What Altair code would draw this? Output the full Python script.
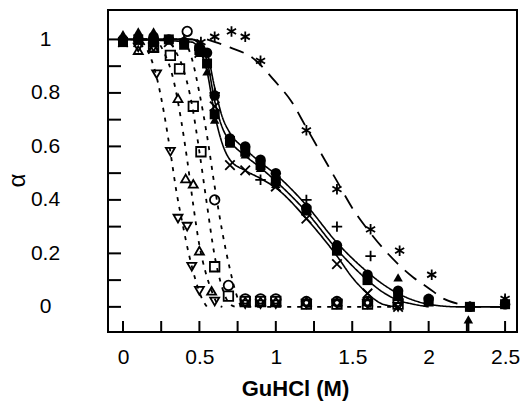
import altair as alt
import pandas as pd

# ---------------- data ----------------
# filled circles
fc_x = [0, 0.1, 0.2, 0.3, 0.4, 0.5, 0.55, 0.6, 0.7, 0.8, 0.9, 1.0, 1.2, 1.4, 1.6, 1.8, 2.0, 2.27, 2.5]
fc_y = [1.0, 1.0, 1.01, 1.0, 0.99, 0.97, 0.95, 0.79, 0.63, 0.60, 0.55, 0.50, 0.37, 0.23, 0.12, 0.06, 0.03, 0.0, 0.01]
# filled squares
fs_x = [0, 0.1, 0.2, 0.3, 0.4, 0.5, 0.55, 0.6, 0.7, 0.8, 0.9, 1.0, 1.2, 1.4, 1.6, 1.8, 2.0, 2.27, 2.5]
fs_y = [0.99, 1.0, 0.99, 1.0, 0.98, 0.96, 0.91, 0.72, 0.62, 0.58, 0.53, 0.47, 0.36, 0.21, 0.10, 0.04, 0.02, 0.0, 0.01]
# filled triangles
ft_x = [0, 0.1, 0.2, 0.3, 0.4, 0.5, 0.55, 0.6, 0.7, 0.8, 0.9, 1.0, 1.2, 1.4, 1.6, 1.8, 2.0, 2.5]
ft_y = [1.02, 1.03, 1.03, 1.0, 1.0, 0.95, 0.88, 0.70, 0.61, 0.57, 0.52, 0.46, 0.38, 0.22, 0.11, 0.11, 0.02, 0.03]
# crosses (x)
xx_x = [0, 0.1, 0.2, 0.3, 0.5, 0.6, 0.7, 0.8, 1.0, 1.2, 1.4, 1.6, 1.8]
xx_y = [0.99, 0.99, 0.98, 0.99, 0.95, 0.75, 0.53, 0.51, 0.45, 0.33, 0.16, 0.05, 0.0]
# plus (+)
pl_x = [0, 0.2, 0.4, 0.5, 0.6, 0.9, 1.2, 1.4, 1.62, 1.8]
pl_y = [1.0, 0.99, 1.0, 0.96, 0.80, 0.475, 0.40, 0.30, 0.19, 0.03]
# asterisks
as_x = [0.51, 0.6, 0.71, 0.8, 0.9, 1.2, 1.4, 1.62, 1.81, 2.02, 2.27, 2.5]
as_y = [0.99, 1.01, 1.03, 1.01, 0.92, 0.66, 0.44, 0.29, 0.21, 0.12, 0.0, 0.03]
# open inverted triangles
dn_x = [0.1, 0.2, 0.22, 0.31, 0.36, 0.42, 0.45, 0.5, 0.6, 0.8, 0.9, 1.0, 1.2, 1.4, 1.6, 1.8]
dn_y = [0.97, 0.97, 0.87, 0.58, 0.33, 0.30, 0.15, 0.06, 0.02, 0.01, 0.01, 0.01, 0.01, 0.01, 0.01, 0.0]
# open triangles
up_x = [0.1, 0.2, 0.36, 0.41, 0.46, 0.5, 0.58, 0.8, 0.9, 1.0, 1.2, 1.4, 1.6]
up_y = [0.96, 0.97, 0.78, 0.48, 0.46, 0.21, 0.06, 0.02, 0.02, 0.02, 0.02, 0.02, 0.02]
# open squares
sq_x = [0.2, 0.31, 0.37, 0.46, 0.51, 0.6, 0.69, 0.8, 0.9, 1.0, 1.2, 1.4, 1.6, 1.8]
sq_y = [0.97, 0.94, 0.89, 0.75, 0.58, 0.15, 0.04, 0.02, 0.02, 0.02, 0.01, 0.01, 0.01, 0.01]
# open circles
oc_x = [0.2, 0.42, 0.6, 0.69, 0.8, 0.9, 1.0, 1.2, 1.4, 1.6]
oc_y = [1.0, 1.03, 0.40, 0.08, 0.03, 0.03, 0.03, 0.02, 0.02, 0.02]

# fitted curves
s1_x = [0, 0.45, 0.5, 0.55, 0.6, 0.65, 0.7, 0.8, 0.9, 1.0, 1.2, 1.4, 1.6, 1.7, 1.8, 1.9, 2.0, 2.2, 2.5]
s1_y = [1, 1, 0.99, 0.95, 0.82, 0.71, 0.65, 0.59, 0.54, 0.495, 0.38, 0.24, 0.13, 0.085, 0.05, 0.025, 0.01, 0, 0]
s2_x = [0, 0.45, 0.5, 0.55, 0.6, 0.65, 0.7, 0.8, 0.9, 1.0, 1.2, 1.4, 1.6, 1.7, 1.8, 1.9, 2.0]
s2_y = [1, 1, 0.98, 0.92, 0.77, 0.67, 0.62, 0.565, 0.52, 0.47, 0.355, 0.215, 0.10, 0.055, 0.025, 0.01, 0]
s3_x = [0, 0.45, 0.5, 0.55, 0.6, 0.65, 0.7, 0.8, 0.9, 1.0, 1.2, 1.4, 1.5, 1.6, 1.7, 1.8]
s3_y = [1, 0.99, 0.96, 0.88, 0.72, 0.61, 0.55, 0.51, 0.48, 0.445, 0.33, 0.19, 0.11, 0.05, 0.01, 0]
ast_fit_x = [0.55, 0.7, 0.85, 1.0, 1.1, 1.2, 1.3, 1.4, 1.5, 1.6, 1.7, 1.8, 1.9, 2.0, 2.1, 2.2, 2.3, 2.5]
ast_fit_y = [1.0, 0.97, 0.93, 0.84, 0.77, 0.67, 0.57, 0.47, 0.37, 0.29, 0.22, 0.16, 0.11, 0.07, 0.03, 0.01, 0.0, 0.0]
c1_x = [0, 0.1, 0.16, 0.22, 0.27, 0.31, 0.35, 0.39, 0.43, 0.47, 0.51, 0.55]
c1_y = [1.0, 1.0, 0.96, 0.86, 0.72, 0.58, 0.43, 0.31, 0.20, 0.11, 0.04, 0.0]
c2_x = [0, 0.2, 0.27, 0.33, 0.38, 0.42, 0.46, 0.50, 0.54, 0.58, 0.62, 0.65]
c2_y = [1.0, 1.0, 0.95, 0.85, 0.70, 0.55, 0.38, 0.23, 0.13, 0.06, 0.01, 0.0]
c3_x = [0, 0.28, 0.35, 0.40, 0.45, 0.50, 0.55, 0.60, 0.65, 0.70, 0.74]
c3_y = [1.0, 1.0, 0.95, 0.88, 0.76, 0.58, 0.38, 0.19, 0.07, 0.01, 0.0]
c4_x = [0, 0.38, 0.45, 0.5, 0.55, 0.6, 0.65, 0.7, 0.74, 0.78, 1.8]
c4_y = [1.0, 1.0, 0.93, 0.80, 0.64, 0.45, 0.28, 0.14, 0.05, 0.0, 0.0]

x_tick_vals = [0, 0.25, 0.5, 0.75, 1.0, 1.25, 1.5, 1.75, 2.0, 2.25, 2.5]
y_tick_vals = [0, 0.1, 0.2, 0.3, 0.4, 0.5, 0.6, 0.7, 0.8, 0.9, 1.0]
x_label_vals = [0, 0.5, 1, 1.5, 2, 2.5]
y_label_vals = [0, 0.2, 0.4, 0.6, 0.8, 1.0]
arrow_x = [2.26]
arrow_y = [-0.047]
arrow_y2 = [-0.094]

# ---------------- chart ----------------
W, H = 409, 322
XDOM = [-0.098, 2.578]
YDOM = [-0.094, 1.11]
FONT = "Liberation Sans"

xaxis = alt.Axis(values=x_label_vals, format="~g", domain=False, ticks=False, tickSize=0,
                 grid=False, labelPadding=14, labelFontSize=21, labelFont=FONT,
                 labelColor="black", title="GuHCl (M)", titleFont=FONT, titleFontSize=22,
                 titleFontWeight="bold", titleColor="black", titleX=187, titleY=56,
                 titleBaseline="middle", titleAlign="center")
yaxis = alt.Axis(values=y_label_vals, format="~g", domain=False, ticks=False, tickSize=0,
                 grid=False, labelPadding=63, labelAlign="center", labelBaseline="middle",
                 labelFontSize=21, labelFont=FONT, labelColor="black",
                 title="α", titleFont=FONT, titleFontSize=24, titleFontWeight="normal",
                 titleColor="black", titleX=-91, titleY=170, titleAngle=-90,
                 titleAlign="center", titleBaseline="middle")

X = lambda f="x": alt.X(f"{f}:Q", scale=alt.Scale(domain=XDOM, nice=False, zero=False), axis=xaxis)
Y = lambda f="y": alt.Y(f"{f}:Q", scale=alt.Scale(domain=YDOM, nice=False, zero=False), axis=yaxis)

def curve_df(name, xs, ys):
    return pd.DataFrame({"curve": name, "x": xs, "y": ys, "order": range(len(xs))})

def line_layer(dfs, dash, width=1.6):
    d = pd.concat(dfs, ignore_index=True)
    return alt.Chart(d).mark_line(color="black", strokeWidth=width, strokeDash=dash,
                                  interpolate="monotone", clip=True).encode(
        x=X(), y=Y(), detail="curve:N", order="order:Q")

solid = line_layer([curve_df("s1", s1_x, s1_y), curve_df("s2", s2_x, s2_y),
                    curve_df("s3", s3_x, s3_y)], [1, 0], 1.6)
longdash = line_layer([curve_df("ast", ast_fit_x, ast_fit_y)], [15, 9], 1.8)
dotted = line_layer([curve_df("c1", c1_x, c1_y), curve_df("c2", c2_x, c2_y),
                     curve_df("c3", c3_x, c3_y), curve_df("c4", c4_x, c4_y)], [4, 6], 1.8)

def pts(xs, ys, **mk):
    d = pd.DataFrame({"x": xs, "y": ys})
    return alt.Chart(d).mark_point(color="black", opacity=1, **mk).encode(x=X(), y=Y())

AST = "M0,-1L0,1M-0.87,-0.5L0.87,0.5M-0.87,0.5L0.87,-0.5"
PLUS = "M-1,0L1,0M0,-1L0,1"
CROSS = "M-1,-1L1,1M-1,1L1,-1"

layers = [
    solid, longdash, dotted,
    pts(dn_x, dn_y, shape="triangle-down", filled=False, size=80, strokeWidth=1.8),
    pts(up_x, up_y, shape="triangle-up", filled=False, size=80, strokeWidth=1.8),
    pts(sq_x, sq_y, shape="square", filled=False, size=90, strokeWidth=1.8),
    pts(oc_x, oc_y, shape="circle", filled=False, size=90, strokeWidth=1.8),
    pts(fc_x, fc_y, shape="circle", filled=True, size=110),
    pts(fs_x, fs_y, shape="square", filled=True, size=100),
    pts(ft_x, ft_y, shape="triangle-up", filled=True, size=90),
    pts(xx_x, xx_y, shape=CROSS, filled=False, size=90, strokeWidth=1.8),
    pts(pl_x, pl_y, shape=PLUS, filled=False, size=110, strokeWidth=1.8),
    pts(as_x, as_y, shape=AST, filled=False, size=110, strokeWidth=1.8),
]

# inward ticks
xt = alt.Chart(pd.DataFrame({"x": x_tick_vals})).mark_rule(color="black", strokeWidth=2).encode(
    x=X(), y=alt.value(H), y2=alt.value(H - 11))
yt = alt.Chart(pd.DataFrame({"y": y_tick_vals})).mark_rule(color="black", strokeWidth=2).encode(
    y=Y(), x=alt.value(0), x2=alt.value(13))

# arrow at the bottom
arrow_df = pd.DataFrame({"x": arrow_x, "y": arrow_y, "y2": arrow_y2})
arrow_stem = alt.Chart(arrow_df).mark_rule(color="black", strokeWidth=2).encode(
    x=X(), y=Y(), y2="y2:Q")
arrow_head = alt.Chart(arrow_df).mark_point(shape="triangle-up", filled=True, color="black",
                                            size=90, opacity=1).encode(x=X(), y=Y())

chart = alt.layer(*layers, xt, yt, arrow_stem, arrow_head).properties(
    width=W, height=H,
    autosize=alt.AutoSizeParams(type="none"),
    padding={"left": 108, "top": 10, "right": 6, "bottom": 70},
    background="white",
).configure_view(stroke="black", strokeWidth=2)

chart.save("out.html", embed_options={"renderer": "svg", "actions": False})
